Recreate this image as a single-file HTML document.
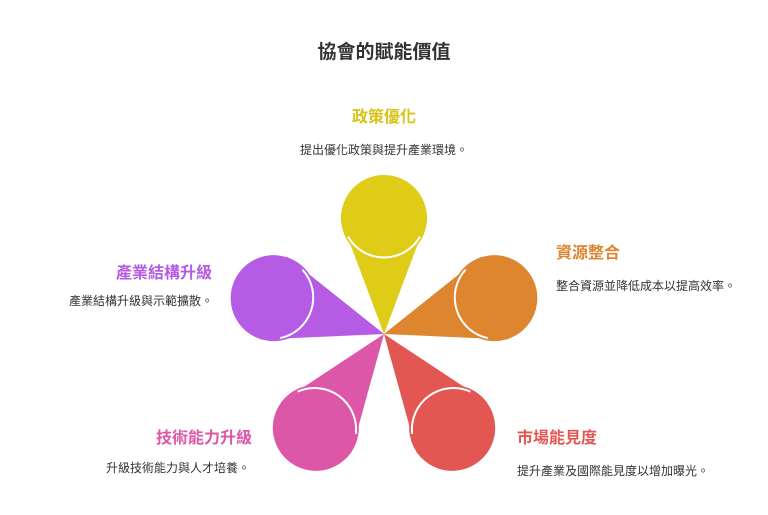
<!DOCTYPE html>
<html><head><meta charset="utf-8"><style>
html,body{margin:0;padding:0;background:#fff;}
svg{display:block;font-family:"Liberation Sans","Noto Sans CJK TC",sans-serif;}
.t{font-size:16px;font-weight:bold;}
.d{font-size:12px;fill:#333;}
</style></head><body>
<svg width="768" height="515" viewBox="0 0 768 515">
<defs>
<g id="petal">
<polygon points="0,0 -43.5,-116 43.5,-116"/>
<circle cx="0" cy="-116" r="43"/>
<path d="M -36 -97.4 A 41.5 41.5 0 0 0 36 -97.4" fill="none" stroke="#fff" stroke-width="2"/>
</g>
</defs>
<text x="384" y="58" text-anchor="middle" font-size="19" font-weight="bold" fill="#333">協會的賦能價值</text>
<g transform="translate(384,334)">
<use href="#petal" fill="#dfcc17"/>
<use href="#petal" fill="#de8530" transform="rotate(72)"/>
<use href="#petal" fill="#e35752" transform="rotate(144)"/>
<use href="#petal" fill="#dc57a8" transform="rotate(216)"/>
<use href="#petal" fill="#b55be4" transform="rotate(288)"/>
</g>
<text class="t" x="384" y="122" text-anchor="middle" fill="#d8c317">政策優化</text>
<text class="d" x="384" y="154" text-anchor="middle">提出優化政策與提升產業環境。</text>
<text class="t" x="556" y="258" fill="#de8530">資源整合</text>
<text class="d" x="556" y="290">整合資源並降低成本以提高效率。</text>
<text class="t" x="517" y="443" fill="#e35752">市場能見度</text>
<text class="d" x="517" y="475">提升產業及國際能見度以增加曝光。</text>
<text class="t" x="212" y="278" text-anchor="end" fill="#b55be4">產業結構升級</text>
<text class="d" x="213" y="305" text-anchor="end">產業結構升級與示範擴散。</text>
<text class="t" x="252" y="443" text-anchor="end" fill="#dc57a8">技術能力升級</text>
<text class="d" x="250" y="472" text-anchor="end">升級技術能力與人才培養。</text>
</svg>
</body></html>
